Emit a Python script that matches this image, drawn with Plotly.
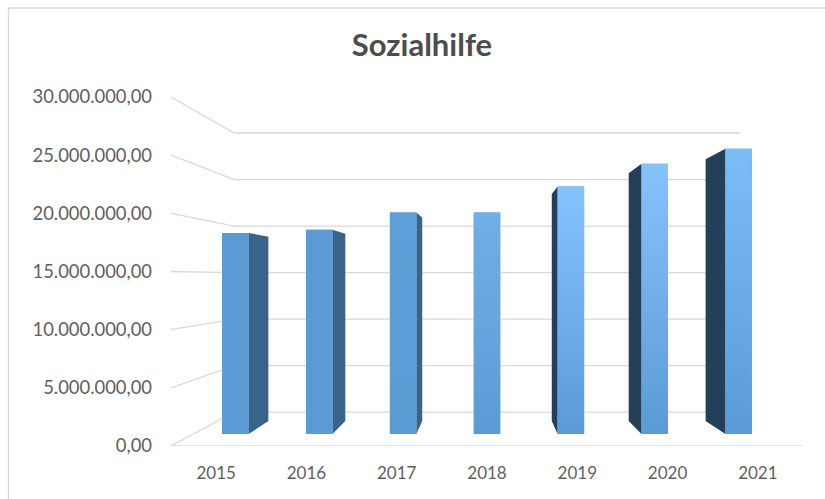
import plotly.graph_objects as go

# --- data ---
years = ["2015", "2016", "2017", "2018", "2019", "2020", "2021"]
values = [18600000, 18900000, 20500000, 20500000, 22900000, 25000000, 26400000]
y_ticks = [0, 5000000, 10000000, 15000000, 20000000, 25000000, 30000000]
y_tick_labels = ["0,00", "5.000.000,00", "10.000.000,00", "15.000.000,00",
                 "20.000.000,00", "25.000.000,00", "30.000.000,00"]
title_text = "Sozialhilfe"

# --- styles ---
face_top = ["#5b9bd5", "#5b9bd5", "#5f9fda", "#72aee8", "#85c3ff", "#85c3ff", "#7dbdf7"]
face_bottom = "#5b9bd5"
side_colors = ["#39648a", "#39648a", "#39648a", "#39648a", "#243f58", "#243f58", "#243f58"]
grid_color = "#d9d9d9"
text_color = "#5f5f5f"

# --- perspective of the 3-D look, in data units ---
VP_X, VP_Y = 3.0, 14530000      # vanishing point
WALL = 0.80                     # depth of back wall
BAR_FRONT = 0.929               # depth of the bars' front face
BAR_BACK = 0.852                # depth of the bars' back face
HALF_W = 0.158                  # half bar width (category units)
X_LEFT, X_RIGHT = -0.5, 6.5


def px_(x, s):
    return VP_X + (x - VP_X) * s


def py_(v, s):
    return VP_Y + (v - VP_Y) * s


fig = go.Figure()


def line(xs, ys, width=1.3):
    fig.add_trace(go.Scatter(x=xs, y=ys, mode="lines", hoverinfo="skip", showlegend=False,
                             line=dict(color=grid_color, width=width)))


# gridlines: left wall + back wall
for t in y_ticks:
    line([px_(X_LEFT, 1), px_(X_LEFT, WALL), px_(X_RIGHT, WALL)],
         [py_(t, 1), py_(t, WALL), py_(t, WALL)])
# floor front edge
line([X_LEFT, X_RIGHT], [0, 0], 1.6)

for i, v in enumerate(values):
    l, r = i - HALF_W, i + HALF_W
    # side face (visible towards the vanishing point)
    if i != 3:
        e = r if i < 3 else l
        fig.add_trace(go.Scatter(
            x=[px_(e, BAR_FRONT), px_(e, BAR_BACK), px_(e, BAR_BACK), px_(e, BAR_FRONT)],
            y=[py_(0, BAR_FRONT), py_(0, BAR_BACK), py_(v, BAR_BACK), py_(v, BAR_FRONT)],
            mode="lines", line=dict(width=0), fill="toself", fillcolor=side_colors[i],
            hoverinfo="skip", showlegend=False))
    # front face
    fig.add_trace(go.Bar(x=[px_(i, BAR_FRONT)], y=[py_(v, BAR_FRONT) - py_(0, BAR_FRONT)],
                         base=[py_(0, BAR_FRONT)], width=[(r - l) * BAR_FRONT],
                         marker=dict(color=face_bottom, line=dict(width=0)),
                         name=years[i], showlegend=False))
    fig.add_trace(go.Scatter(
        x=[px_(l, BAR_FRONT), px_(r, BAR_FRONT), px_(r, BAR_FRONT), px_(l, BAR_FRONT)],
        y=[py_(0, BAR_FRONT), py_(0, BAR_FRONT), py_(v, BAR_FRONT), py_(v, BAR_FRONT)],
        mode="lines", line=dict(width=0), fill="toself",
        fillgradient=dict(type="vertical", colorscale=[[0, face_bottom], [1, face_top[i]]]),
        hoverinfo="skip", showlegend=False))

P_L, P_R, P_T, P_B = 171, 825 - 803, 97, 499 - 446
PW, PH = 825 - P_L - P_R, 499 - P_T - P_B

fig.update_layout(
    width=825, height=499,
    margin=dict(l=P_L, r=P_R, t=P_T, b=P_B, pad=0),
    autosize=False,
    paper_bgcolor="white", plot_bgcolor="white",
    showlegend=False, barmode="overlay",
    font=dict(family="Lato", color=text_color),
    title=dict(text=f"<b>{title_text}</b>", x=422 / 825, xanchor="center",
               y=1 - 45 / 499, yanchor="middle",
               font=dict(family="Lato", size=31, color="#4d4d4d")),
    xaxis=dict(range=[X_LEFT, X_RIGHT], tickmode="array", tickvals=list(range(7)), ticktext=years,
               showgrid=False, zeroline=False, showline=False, ticks="",
               tickfont=dict(size=17, color=text_color), ticklabelstandoff=15),
    yaxis=dict(range=[0, 30000000], tickmode="array", tickvals=y_ticks, ticktext=y_tick_labels,
               showgrid=False, zeroline=False, showline=False, ticks="",
               tickfont=dict(size=18.4, color=text_color), ticklabelstandoff=18),
    shapes=[dict(type="rect", xref="paper", yref="paper",
                 x0=(8.5 - P_L) / PW, x1=(1000 - P_L) / PW,
                 y0=-1, y1=(499 - 8 - P_B) / PH,
                 line=dict(color="#d9d9d9", width=1.3), fillcolor="rgba(0,0,0,0)", layer="below")],
)

fig.write_html("out.html", config={"displayModeBar": False},
               post_script="document.body.style.margin='0';document.body.style.overflow='hidden';")
